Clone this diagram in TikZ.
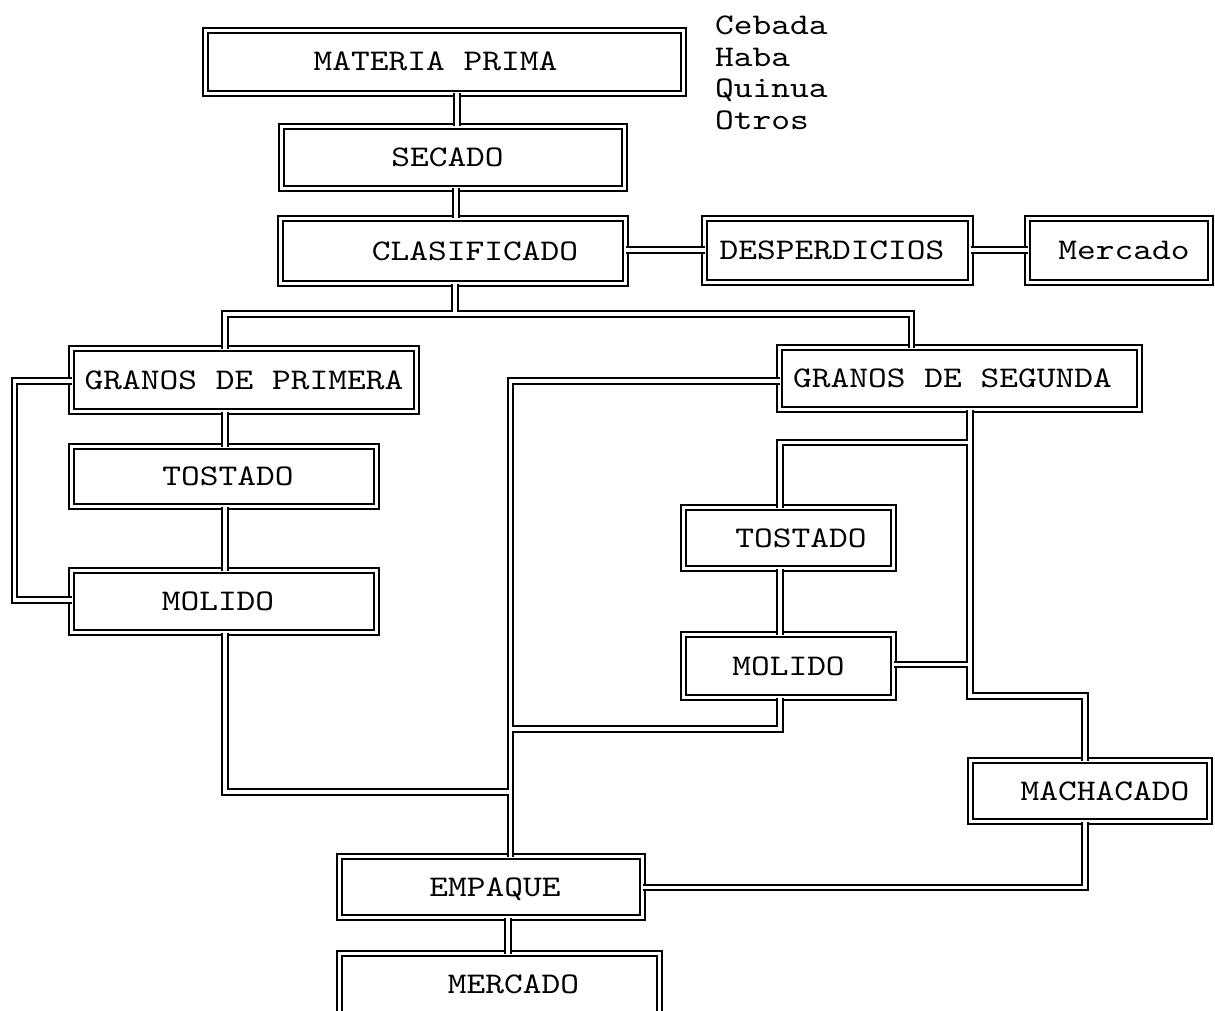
\documentclass[tikz,border=0pt]{standalone}
\usepackage{fontspec}
\newfontfamily\mono{lmmono10-regular.otf}[FakeStretch=1.19]
\begin{document}
\begin{tikzpicture}[x=1pt,y=-1pt,
  box/.style={draw, double, double distance=3.6pt, line width=1.8pt, inner sep=0pt, outer sep=0pt,
    font=\mono\fontsize{30}{30}\selectfont, text height=18pt, text depth=0pt},
  lst/.style={font=\mono\fontsize{30}{30}\selectfont, anchor=base west, inner sep=0pt}]
\useasboundingbox (0,0) rectangle (1215,1011);
\clip (0,0) rectangle (1215,1011);

% boxes
\node[box, minimum width=478pt, minimum height=63pt] (mp)   at (444.5,62)   {MATERIA PRIMA\hspace*{18pt}};
\node[box, minimum width=343pt, minimum height=62pt] (sec)  at (453,157.5)  {SECADO\hspace*{11pt}};
\node[box, minimum width=345pt, minimum height=65pt] (cla)  at (453,251)    {\hspace*{44pt}CLASIFICADO};
\node[box, minimum width=266pt, minimum height=64pt] (des)  at (837.5,250.5){DESPERDICIOS\hspace*{11pt}};
\node[box, minimum width=183pt, minimum height=64pt] (mer1) at (1119,250.5) {\hspace*{10pt}Mercado};
\node[box, minimum width=345pt, minimum height=63pt] (gp)   at (244,380)    {GRANOS DE PRIMERA};
\node[box, minimum width=360pt, minimum height=62pt] (gs)   at (959.5,378.5){GRANOS DE SEGUNDA\hspace*{14pt}};
\node[box, minimum width=305pt, minimum height=60pt] (toL)  at (224,476.5)  {\hspace*{8pt}TOSTADO};
\node[box, minimum width=305pt, minimum height=62pt] (moL)  at (224,601.5)  {MOLIDO\hspace*{12pt}};
\node[box, minimum width=210pt, minimum height=61pt] (toR)  at (788.5,538)  {\hspace*{25pt}TOSTADO};
\node[box, minimum width=210pt, minimum height=63pt] (moR)  at (788.5,666)  {MOLIDO};
\node[box, minimum width=239pt, minimum height=61pt] (mac)  at (1090,791)   {\hspace*{30pt}MACHACADO};
\node[box, minimum width=303pt, minimum height=61pt] (emp)  at (491,887)    {\hspace*{8pt}EMPAQUE};
\node[box, minimum width=320pt, minimum height=62pt] (merc) at (499.5,984.5){\hspace*{28pt}MERCADO};

% list of raw materials
\node[lst] (l1) at (715,35)  {Cebada};
\node[lst] (l2) at (715,67)  {Haba};
\node[lst] (l3) at (715,98)  {Quinua};
\node[lst] (l4) at (715,130) {Otros};

% connectors (double "pipes", two passes so junctions merge)
\foreach \w/\c in {7.2pt/black, 3.6pt/white}{
  \draw[line width=\w, \c, line join=miter]
    (457,0 |- mp.south) -- (457,0 |- sec.north)
    (456,0 |- sec.south) -- (456,0 |- cla.north)
    (455,0 |- cla.south) -- (455,314)
    (225,0 |- gp.north) -- (225,314) -- (911.5,314) -- (911.5,0 |- gs.north)
    (cla.east |- 0,250) -- (des.west |- 0,250)
    (des.east |- 0,250) -- (mer1.west |- 0,250)
    (225,0 |- gp.south) -- (225,0 |- toL.north)
    (225,0 |- toL.south) -- (225,0 |- moL.north)
    (gp.west |- 0,381) -- (14.5,381) -- (14.5,600) -- (moL.west |- 0,600)
    (225,0 |- moL.south) -- (225,792) -- (510.5,792)
    (gs.west |- 0,381) -- (510.5,381) -- (510.5,0 |- emp.north)
    (780,0 |- moR.south) -- (780,729) -- (510.5,729)
    (970,0 |- gs.south) -- (970,696) -- (1085,696) -- (1085,0 |- mac.north)
    (970,442.5) -- (780,442.5) -- (780,0 |- toR.north)
    (780,0 |- toR.south) -- (780,0 |- moR.north)
    (moR.east |- 0,664.5) -- (970,664.5)
    (1085,0 |- mac.south) -- (1085,887.5) -- (emp.east |- 0,887.5)
    (508,0 |- emp.south) -- (508,0 |- merc.north);
}
\end{tikzpicture}
\end{document}
